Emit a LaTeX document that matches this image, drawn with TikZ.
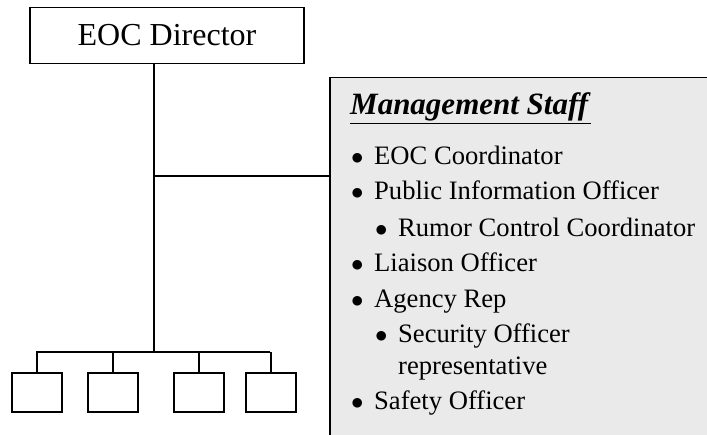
\documentclass[tikz,border=0pt]{standalone}
\usepackage{fontspec}
\setmainfont{Liberation Serif}
\usepackage{tikz}
\usetikzlibrary{positioning, calc}
\definecolor{panelgray}{RGB}{234,234,234}
\tikzstyle{director} = [rectangle, minimum width=274pt, minimum height=56pt, text centered, draw=black, line width=1.5pt, font=\fontsize{32}{36}\selectfont, inner sep=0pt]
\tikzstyle{unit} = [rectangle, minimum width=50pt, minimum height=39pt, draw=black, line width=1.5pt, inner sep=0pt]
\tikzstyle{panel} = [rectangle, minimum width=420pt, minimum height=400pt, draw=black, fill=panelgray, line width=1.5pt, anchor=north west]
\tikzstyle{item} = [anchor=base west, inner sep=0pt, font=\fontsize{26.6}{30}\selectfont]
\tikzstyle{line} = [line width=1.5pt]
\newcommand{\bul}{\makebox[23pt][l]{$\bullet$}}

\begin{document}
\begin{tikzpicture}[x=1pt, y=-1pt]
\useasboundingbox (0,0) rectangle (707,435);

\begin{scope}
\clip (0,0) rectangle (707,435);
\node (staff) [panel] at (329,77) {};
\end{scope}

\node (dir) [director] at (167,35.5) {EOC Director};

\node (title) [item, font=\fontsize{31}{34}\selectfont] at (350,115) {\underline{\textbf{\textit{Management Staff}}}};
\node (coord) [item] at (351,165) {\bul EOC Coordinator};
\node (pio) [item] at (351,200) {\bul Public Information Officer};
\node (rumor) [item] at (375,237) {\bul Rumor Control Coordinator};
\node (liaison) [item] at (351,272) {\bul Liaison Officer};
\node (agency) [item] at (351,308) {\bul Agency Rep};
\node (security) [item] at (375,343) {\bul Security Officer};
\node (secrep) [item] at (398,375) {representative};
\node (safety) [item] at (351,410) {\bul Safety Officer};

\node (unitA) [unit] at (37,392.5) {};
\node (unitB) [unit] at (113,392.5) {};
\node (unitC) [unit] at (199,392.5) {};
\node (unitD) [unit] at (271,392.5) {};

\coordinate (trunk) at (154,352);
\coordinate (tee) at (154,176);
\coordinate (busL) at (36,352);
\coordinate (busR) at (270,352);

\draw [line] (dir.south -| trunk) -- (trunk);
\draw [line] (tee) -- (tee -| staff.west);
\draw [line] (busL) -- (busR);
\draw [line] (unitA.north) -- (unitA.north |- busL);
\draw [line] (unitB.north) -- (unitB.north |- busL);
\draw [line] (unitC.north) -- (unitC.north |- busL);
\draw [line] (unitD.north) -- (unitD.north |- busL);

\end{tikzpicture}
\end{document}
